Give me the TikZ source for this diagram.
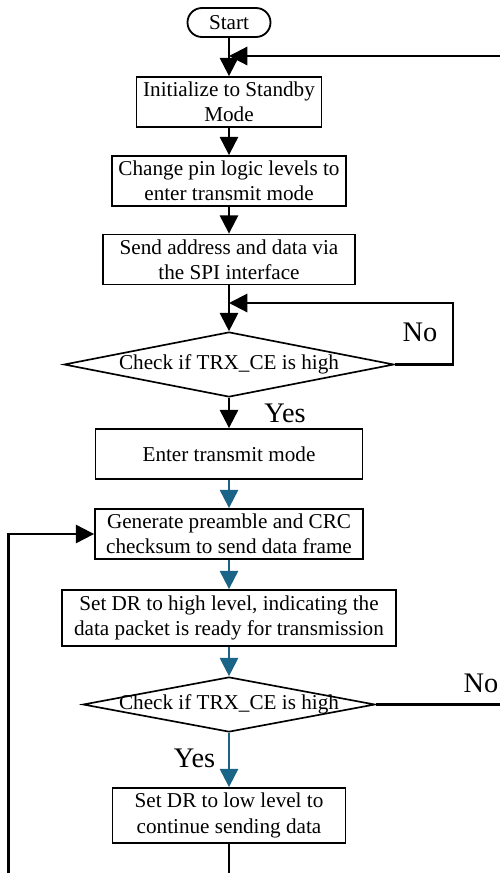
\documentclass[tikz,border=0pt]{standalone}
\usepackage{fontspec}
\setmainfont{Liberation Serif}
\usetikzlibrary{arrows.meta,shapes.geometric}
\definecolor{flowblue}{RGB}{26,100,136}

\begin{document}
\begin{tikzpicture}[x=0.6pt, y=-0.6pt, >={Triangle[width=11pt,length=11pt]},
  box/.style={draw, line width=1.1pt, align=center, inner sep=1pt,
    minimum height=30pt, font=\fontsize{12.7}{15.2}\selectfont},
  test/.style={diamond, draw, line width=1pt, inner sep=0pt,
    font=\fontsize{12.7}{15.2}\selectfont},
  flow/.style={->, line width=1.3pt},
  blueflow/.style={flow, draw=flowblue, fill=flowblue},
  answer/.style={font=\fontsize{17}{20}\selectfont}]

\useasboundingbox (0,0) rectangle (500,873);

% Terminal and the process boxes
\node [box, rounded corners=8.7pt, minimum width=49.8pt, minimum height=17.4pt]
  (start) at (229,22.5) {Start};
\node [box, minimum width=111pt] (init) at (229,102) {Initialize to Standby\\Mode};
\node [box, minimum width=140.4pt] (pinlvl) at (229,181) {Change pin logic levels to\\enter transmit mode};
\node [box, minimum width=151.2pt] (spi) at (229,259.5) {Send address and data via\\the SPI interface};
\node [test, minimum width=198pt, minimum height=39pt] (chk1) at (229,364.5)
  {\makebox[0pt]{Check if TRX\_CE is high}};
\node [box, minimum width=160.2pt] (enter) at (229,454) {Enter transmit mode};
\node [box, minimum width=160.8pt] (frame) at (229,534) {Generate preamble and CRC\\checksum to send data frame};
\node [box, minimum width=200.4pt, minimum height=33.6pt] (drhigh) at (229,618)
  {Set DR to high level, indicating the\\data packet is ready for transmission};
\node [test, minimum width=175.2pt, minimum height=33pt] (chk2) at (229,704.5)
  {\makebox[0pt]{Check if TRX\_CE is high}};
\node [box, minimum width=139.8pt, minimum height=33pt] (drlow) at (229,815.5)
  {Set DR to low level to\\continue sending data};

% Answers
\node [answer] (no1) at (420,332) {No};
\node [answer] (yes1) at (285,413) {Yes};
\node [answer] (no2) at (481,683) {No};
\node [answer] (yes2) at (194.5,758) {Yes};

% Joins and the ends cut by the border
\coordinate (join1) at (229,56);
\coordinate (join2) at (229,303);
\coordinate (rightend) at (500,56);
\coordinate (noend) at (500,704.5);
\coordinate (downend) at (229,873);
\coordinate (leftend) at (8.5,873);

% Straight flow
\foreach \a/\b in {start/init, init/pinlvl, pinlvl/spi, spi/chk1, chk1/enter} {
  \draw [flow] (\a) -- (\b);
}
\foreach \a/\b in {enter/frame, frame/drhigh, drhigh/chk2, chk2/drlow} {
  \draw [blueflow] (\a) -- (\b);
}

% Loops
\draw [flow] (chk1.east) -- (453,364.5) |- (join2);
\draw [flow] (rightend) -- (join1);
\draw [line width=1.3pt] (chk2.east) -- (noend);
\draw [line width=1.3pt] (drlow.south) -- (downend);
\draw [flow] (leftend) |- (frame.west);
\end{tikzpicture}
\end{document}
